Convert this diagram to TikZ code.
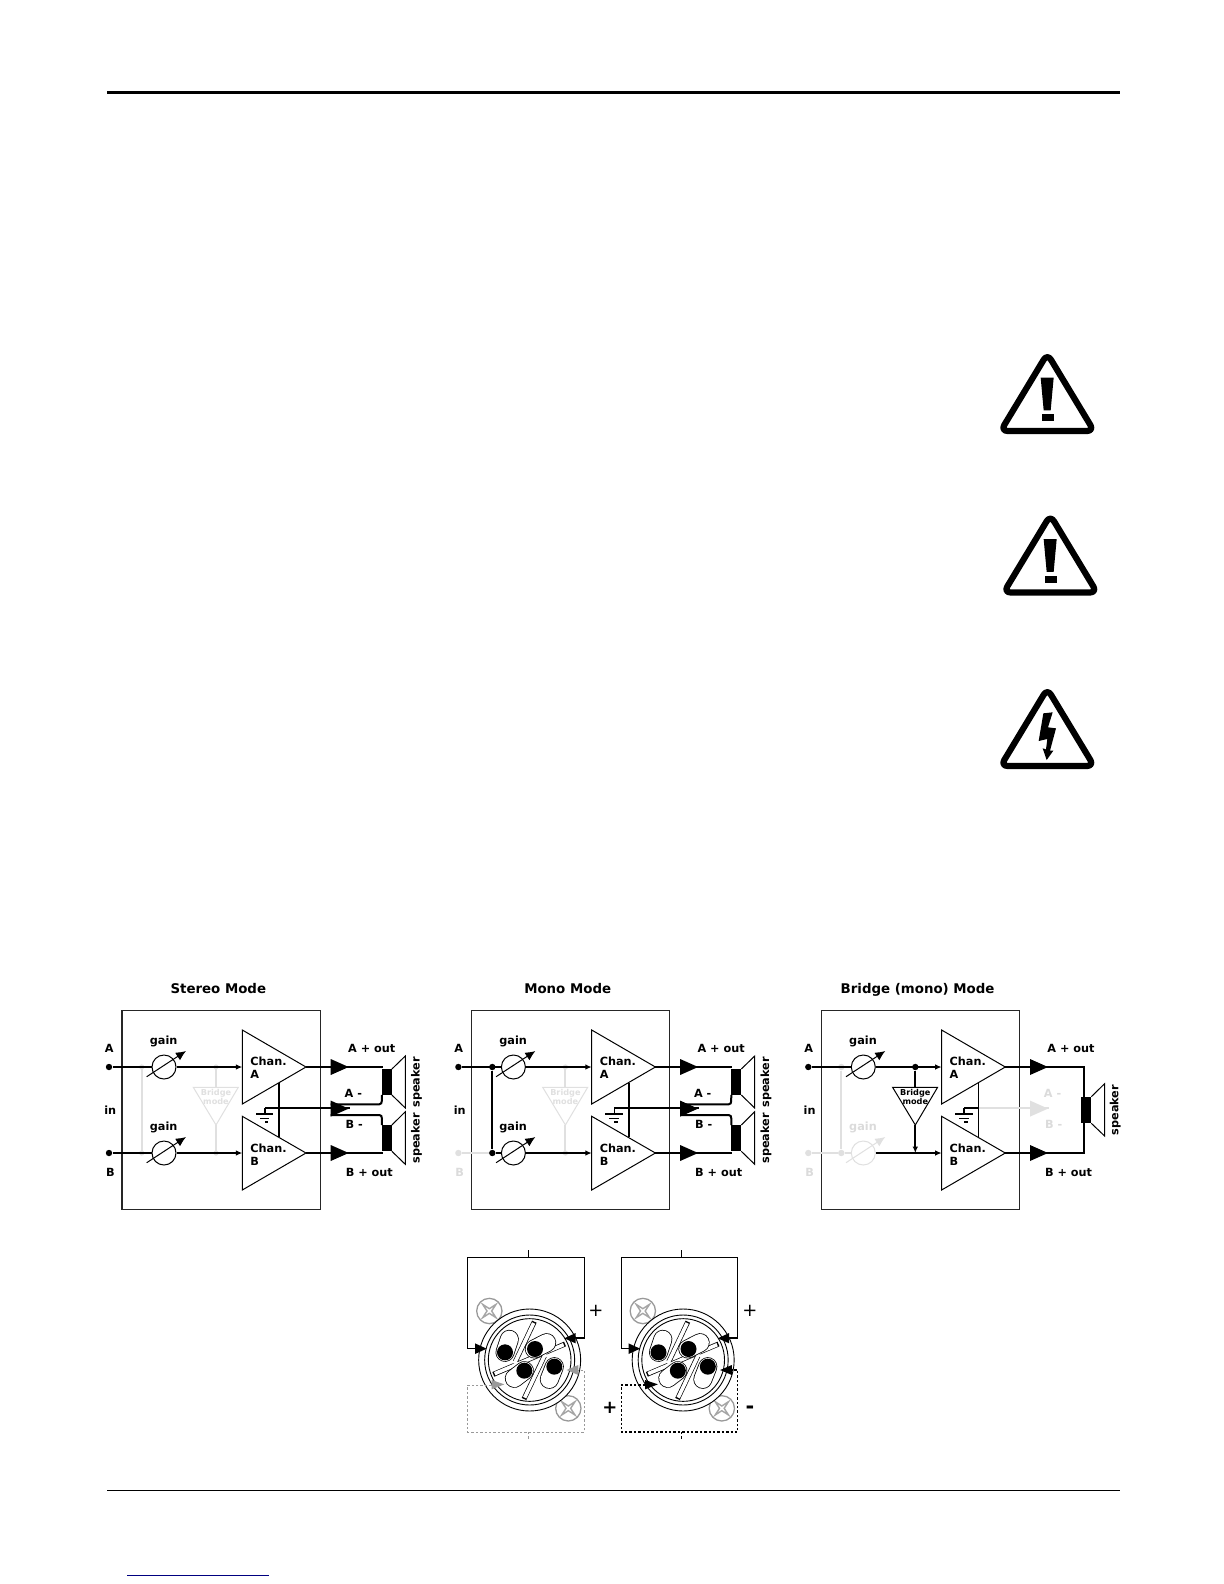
\documentclass[tikz,border=0pt]{standalone}
\usepackage{fontspec}
\setmainfont{DejaVu Sans}
\usetikzlibrary{arrows.meta}
\definecolor{faint}{gray}{0.88}
\definecolor{fainttext}{gray}{0.86}
\tikzset{
  lab/.style={inner sep=0pt,font=\fontsize{5.65}{6}\selectfont\bfseries},
  ttl/.style={inner sep=0pt,text height=5.2pt,text depth=1.3pt,font=\fontsize{6.7}{7}\selectfont\bfseries},
  small/.style={inner sep=0pt,align=center,font=\fontsize{4.1}{4.6}\selectfont\bfseries},
  wire/.style={line width=1bp,line join=miter},
  wirethin/.style={line width=.85bp},
  thin line/.style={line width=.5bp},
  gndline/.style={line width=.6bp},
  panelbox/.style={draw=black!85,line width=.55bp,minimum size=99.15bp,inner sep=0pt},
  gainc/.style={circle,draw,fill=white,line width=.5bp,minimum size=12bp,inner sep=0pt},
  sdot/.style={circle,fill,minimum size=3.2bp,inner sep=0pt},
  into/.style={-{Latex[length=3.2bp,width=2.8bp]}},
  gainarrow/.style={line width=.5bp,-{Latex[length=5bp,width=4.5bp]}},
  coilbox/.style={fill=black},
  xring/.style={draw=black,line width=.45bp},
  xwire/.style={line width=.6bp},
}
% big output triangle
\newcommand\bigtri[3]{\fill[#3] (#1,#2-8) -- (#1,#2+8) -- (#1+18,#2) -- cycle;}
% parts shared by all three panels
\newcommand\panelbase[2]{%
  \node[panelbox] (#1box) at (221.2,1109.9) {};
  \node[ttl] (#1title) at (218.3,989.6) {#2};
  \node[lab] (#1labA) at (109.3,1048) {A};
  \node[lab] (#1labin) at (110.3,1110.3) {in};
  \node[sdot] (#1inA) at (109,1067) {};
  \coordinate (#1ampAin) at (242.3,1067);
  \coordinate (#1ampAout) at (306,1067);
  \coordinate (#1ampBin) at (242.3,1153);
  \coordinate (#1ampBout) at (306,1153);
  \draw[thin line,fill=white] (242.3,1030) -- (242.3,1104) -- (#1ampAout) -- cycle;
  \draw[thin line,fill=white] (242.3,1116.3) -- (242.3,1190) -- (#1ampBout) -- cycle;
  \node[lab,anchor=west] (#1chA) at (250,1061) {Chan.};
  \node[lab,anchor=west] (#1chAb) at (250,1074.3) {A};
  \node[lab,anchor=west] (#1chB) at (250,1148.5) {Chan.};
  \node[lab,anchor=west] (#1chBb) at (250,1161.5) {B};
  \node[lab] (#1labAp) at (371.7,1048) {A + out};
  \node[lab] (#1labBp) at (369.3,1172.3) {B + out};
  \node[lab] (#1gainA) at (163.7,1041.3) {gain};
  \coordinate (#1railT) at (279.3,1083.3);
  \coordinate (#1railB) at (279.3,1136.7);
  \coordinate (#1gnd) at (265,1108.3);
  \coordinate (#1gndb) at (265,1114);
  \draw[wirethin] (#1railT) -- (#1railB);
  \draw[wirethin] (#1gndb) -- (#1gnd);
  \draw[gndline] (256,1114) -- (273.3,1114) (260,1118.3) -- (269.3,1118.3) (265,1122) -- (268.3,1122);
}
% bridge triangle and its two stubs
\newcommand\bridgetri[2]{%
  \coordinate (#1brT) at (216,1087.3);
  \coordinate (#1brB) at (216,1125);
  \draw[thin line,draw=#2,fill=white] (193.3,1087.3) -- (238.3,1087.3) -- (#1brB) -- cycle;
  \node[small,text=#2] (#1brtxt) at (216,1097) {Bridge\\mode};
}
% gain pot with crossing arrow
\newcommand\gainpot[4]{%
  \node[gainc,draw=#4] (#1) at (164,#2) {};
  \coordinate (#1s) at (146.7,#2+9.7);
  \coordinate (#1e) at (186,#2-16);
  \draw[gainarrow,draw=#4,#4] (#1s) -- (#1e);
}
% speaker
\newcommand\speaker[5]{%
  \fill[coilbox] (381.9,#2) rectangle (391.9,#3);
  \coordinate (#1t) at (381.9,#2);
  \coordinate (#1b) at (381.9,#3);
  \draw[thin line] (391.9,#2) -- (405.3,#4) -- (405.3,#5) -- (391.9,#3);
}
% warning frame, in zoom-scale units
\newcommand\warnframe[2]{%
  \begin{scope}[shift={(#1,#2)},x=.16667bp,y=-.16667bp]
    \draw[line width=3.1bp,line join=round,rounded corners=3.5bp] (172,26) -- (312,258) -- (32,258) -- cycle;
}
% XLR connector
\newcommand\xlr[5]{%
  \begin{scope}[shift={(#2,1240)},x=.16667bp,y=-.16667bp]
    \coordinate (#1tt) at (220,30);
    \coordinate (#1tm) at (220,52);
    \coordinate (#1tl) at (38,52);
    \coordinate (#1tr) at (388,52);
    \coordinate (#1ll) at (38,326);
    \coordinate (#1la) at (60,326);
    \coordinate (#1rl) at (388,294);
    \coordinate (#1ra) at (362,294);
    \draw[xwire] (#1tt) -- (#1tm);
    \draw[xwire,line join=miter] (#1la) -- (#1ll) -- (#1tl) -- (#1tr) -- (#1rl) -- (#1ra);
    \coordinate (#1bl) at (38,435);
    \coordinate (#1bla) at (110,435);
    \coordinate (#1bll) at (38,576);
    \coordinate (#1brr) at (388,576);
    \coordinate (#1br) at (388,390);
    \coordinate (#1bra) at (370,390);
    \coordinate (#1bm) at (220,576);
    \coordinate (#1bt) at (220,598);
    % screws
    \foreach \cx/\cy in {103/213,340/505}{
      \draw[draw=black!40,line width=.65bp,fill=white] (\cx,\cy) circle (38);
      \draw[draw=black!35,line width=.7bp] (\cx-20,\cy-20) -- (\cx,\cy-7) -- (\cx+20,\cy-20) -- (\cx+7,\cy) -- (\cx+20,\cy+20) -- (\cx,\cy+7) -- (\cx-20,\cy+20) -- (\cx-7,\cy) -- cycle;
    }
    % body
    \draw[xring,fill=white] (224,360) circle (153);
    \draw[xring] (224,360) circle (135);
    \draw[xring] (224,360) circle (124);
    % dividers: black edges first, white cores over them
    \draw[line width=2.5bp] (238,245) -- (181,365);
    \draw[line width=2.5bp] (330,312) -- (115,403);
    \draw[line width=2.5bp] (268,348) -- (207,477);
    \draw[white,line width=1.8bp] (236,249) -- (178,371);
    \draw[white,line width=1.8bp] (326,314) -- (119,401);
    \draw[white,line width=1.8bp] (271,342) -- (209,473);
    % slots
    \foreach \ax/\ay/\bx/\by in {150/337/163/298,238/327/275/308,208/392/178/415,298/380/283/418}{
      \draw[line width=9.5bp,line cap=round] (\ax,\ay) -- (\bx,\by);
      \draw[white,line width=8.7bp,line cap=round] (\ax,\ay) -- (\bx,\by);
    }
    % pins
    \foreach \ax/\ay in {150/337,240/327,208/392,298/380}{
      \fill (\ax,\ay) circle (24);
    }
    % upper arrows
    \fill (60,310) -- (60,342) -- (95,326) -- cycle;
    \fill (362,279) -- (362,310) -- (328,295) -- cycle;
    % lower loop
    \draw[color=#3,line width=#4bp,dash pattern=on 1.2bp off 1bp] (#1bla) -- (#1bl) -- (#1bll) -- (#1brr) -- (#1br) -- (#1bra);
    \draw[color=#3,line width=#4bp,dash pattern=on 1.2bp off 1bp] (#1bm) -- (#1bt);
    \fill[#3] (110,420) -- (110,448) -- (148,433) -- cycle;
    \fill[#3] (370,375) -- (370,405) -- (335,390) -- cycle;
    #5
  \end{scope}
}
\begin{document}
\begin{tikzpicture}[x=.5bp,y=-.5bp]
\useasboundingbox (0,0) rectangle (1224,1584);
\fill[white] (0,0) rectangle (1224,1584);
% page rules
\coordinate (topL) at (107,92);
\coordinate (topR) at (1120,92);
\draw[line width=1.5bp] (topL) -- (topR);
\coordinate (botL) at (107,1490.3);
\coordinate (botR) at (1120,1490.3);
\draw[line width=.6bp] (botL) -- (botR);
\coordinate (linkL) at (127,1575.3);
\coordinate (linkR) at (269,1575.3);
\draw[color=blue!50!black,line width=.55bp] (linkL) -- (linkR);

% warning icons
\warnframe{990}{345}
  \fill (152,98) -- (191,98) -- (182,196) -- (161,196) -- cycle;
  \fill (155,208) rectangle (191,228);
\end{scope}
\warnframe{993}{506.5}
  \fill (152,98) -- (191,98) -- (182,196) -- (161,196) -- cycle;
  \fill (155,208) rectangle (191,228);
\end{scope}
\warnframe{990}{680}
  \fill (160,100) -- (188,97) -- (174,142) -- (198,145) -- (180,212) -- (190,212) -- (170,240) -- (158,205) -- (168,208) -- (172,177) -- (146,183) -- cycle;
\end{scope}

% ---------- Stereo
\begin{scope}
  \panelbase{s}{Stereo Mode}
  \node[lab] (sB) at (110.3,1172.3) {B};
  \node[sdot] (sinB) at (109,1153) {};
  \coordinate (sgT) at (141.7,1067); \coordinate (sgB) at (141.7,1153);
  \draw[faint,line width=1bp] (sgT) -- (sgB);
  \fill[faint] (sgT) circle (2.6) (sgB) circle (2.6);
  \coordinate (sbrT) at (216,1067); \coordinate (sbrBe) at (216,1153);
  \bridgetri{sx}{faint}
  \draw[faint,line width=1bp] (sbrT) -- (sxbrT) (sxbrB) -- (sbrBe);
  \fill[faint] (sbrT) circle (2.6) (sbrBe) circle (2.6);
  \gainpot{sga}{1067}{}{black}
  \node[gainc] (sgb) at (164,1153) {};
  \coordinate (sgbs) at (146.7,1162.7); \coordinate (sgbe) at (186,1137);
  \draw[gainarrow] (sgbs) -- (sgbe);
  \node[lab] (sgainB) at (163.7,1127.3) {gain};
  \draw[wirethin] (sinA) -- (sga);
  \draw[wirethin,into] (sga) -- (sampAin);
  \draw[wirethin] (sinB) -- (sgb);
  \draw[wirethin,into] (sgb) -- (sampBin);
  \speaker{sspA}{1069}{1095}{1056}{1108}
  \speaker{sspB}{1125}{1151.3}{1111.7}{1164.3}
  \draw[wire] (sampAout) -- (382.7,1067);
  \draw[wire] (sampBout) -- (382.7,1153);
  \bigtri{330.7}{1067}{black}
  \bigtri{330.7}{1153}{black}
  \coordinate (smid) at (350,1108.3);
  \draw[wire] (sgnd) -- (smid);
  \bigtri{330.7}{1108.6}{black}
  \draw[wire] (330.7,1104.3) -- (379.3,1104.3) to[out=0,in=-100] (382,1095);
  \draw[wire] (330.7,1115) -- (379.3,1115) to[out=0,in=100] (382,1125);
  \node[lab] (sAm) at (353.3,1093.3) {A -};
  \node[lab] (sBm) at (354.3,1124.3) {B -};
  \node[lab,rotate=90] (ssp1) at (416.5,1082.3) {speaker};
  \node[lab,rotate=90] (ssp2) at (416.5,1138.3) {speaker};
\end{scope}

% ---------- Mono
\begin{scope}[shift={(349.4,0)}]
  \panelbase{m}{Mono Mode}
  \node[lab,text=fainttext] (mB) at (110.3,1172.3) {B};
  \node[sdot,faint] (minB) at (109,1153) {};
  \coordinate (mbrT) at (216,1067); \coordinate (mbrBe) at (216,1153);
  \bridgetri{mx}{faint}
  \draw[faint,line width=1bp] (mbrT) -- (mxbrT) (mxbrB) -- (mbrBe);
  \fill[faint] (mbrT) circle (2.6) (mbrBe) circle (2.6);
  \gainpot{mga}{1067}{}{black}
  \node[gainc] (mgb) at (164,1153) {};
  \coordinate (mgbs) at (146.7,1162.7); \coordinate (mgbe) at (186,1137);
  \draw[gainarrow] (mgbs) -- (mgbe);
  \node[lab] (mgainB) at (163.7,1127.3) {gain};
  \node[sdot] (mjT) at (142.9,1067) {};
  \node[sdot] (mjB) at (142.9,1153) {};
  \draw[faint,line width=1bp] (minB) -- (mjB);
  \draw[wirethin] (minA) -- (mga);
  \draw[wirethin] (mjT) -- (mjB);
  \draw[wirethin] (mjB) -- (mgb);
  \draw[wirethin,into] (mga) -- (mampAin);
  \draw[wirethin,into] (mgb) -- (mampBin);
  \speaker{mspA}{1069}{1095}{1056}{1108}
  \speaker{mspB}{1125}{1151.3}{1111.7}{1164.3}
  \draw[wire] (mampAout) -- (382.7,1067);
  \draw[wire] (mampBout) -- (382.7,1153);
  \bigtri{330.7}{1067}{black}
  \bigtri{330.7}{1153}{black}
  \coordinate (mmid) at (350,1108.3);
  \draw[wire] (mgnd) -- (mmid);
  \bigtri{330.7}{1108.6}{black}
  \draw[wire] (330.7,1104.3) -- (379.3,1104.3) to[out=0,in=-100] (382,1095);
  \draw[wire] (330.7,1115) -- (379.3,1115) to[out=0,in=100] (382,1125);
  \node[lab] (mAm) at (353.3,1093.3) {A -};
  \node[lab] (mBm) at (354.3,1124.3) {B -};
  \node[lab,rotate=90] (msp1) at (416.5,1082.3) {speaker};
  \node[lab,rotate=90] (msp2) at (416.5,1138.3) {speaker};
\end{scope}

% ---------- Bridge
\begin{scope}[shift={(699.3,0)}]
  \panelbase{b}{Bridge (mono) Mode}
  \node[lab,text=fainttext] (bB) at (110.3,1172.3) {B};
  \node[lab,text=fainttext] (bAm) at (353.3,1093.3) {A -};
  \node[lab,text=fainttext] (bBm) at (354.3,1124.3) {B -};
  \node[lab,text=fainttext] (bgainB) at (163.7,1127.3) {gain};
  \node[sdot,faint] (binB) at (109,1153) {};
  \node[sdot,faint] (bjT) at (142,1067) {};
  \node[sdot,faint] (bjB) at (142,1153) {};
  \draw[faint,line width=1bp] (bjT) -- (bjB);
  \draw[faint,line width=1bp] (binB) -- (bjB);
  \node[gainc,draw=faint] (bgb) at (164,1153) {};
  \draw[faint,line width=1bp] (bjB) -- (bgb);
  \coordinate (bgbs) at (146.7,1162.7); \coordinate (bgbe) at (186,1137);
  \draw[gainarrow,draw=faint,color=faint] (bgbs) -- (bgbe);
  \gainpot{bga}{1067}{}{black}
  \node[sdot] (bjbr) at (216,1067) {};
  \coordinate (bjbB) at (216,1153);
  \bridgetri{bx}{black}
  \draw[wirethin] (binA) -- (bga);
  \draw[wirethin,into] (bga) -- (bampAin);
  \draw[wirethin] (bjbr) -- (bxbrT);
  \draw[wirethin,into] (bxbrB) -- (bjbB);
  \draw[wirethin,into] (bgb) -- (bampBin);
  % faded output
  \coordinate (bmid) at (350,1108.3);
  \draw[faint,wire] (bgnd-|brailT) -- (bmid);
  \bigtri{330.7}{1108.6}{faint}
  \draw[wirethin] (bgnd) -- (bgnd-|brailT);
  % speaker
  \fill[coilbox] (382,1096.7) rectangle (392,1123.3);
  \coordinate (bspT) at (385,1096.7);
  \coordinate (bspB) at (385,1123.3);
  \draw[thin line] (392,1096.7) -- (405.3,1083.7) -- (405.3,1136) -- (392,1123.3);
  \draw[wire] (bampAout) -- (385,1067) -- (bspT);
  \draw[wire] (bampBout) -- (385,1153) -- (bspB);
  \bigtri{330.7}{1067}{black}
  \bigtri{330.7}{1153}{black}
  \node[lab,rotate=90] (bsp) at (416,1110) {speaker};
\end{scope}

% ---------- connectors
\xlr{c}{455}{black!40}{.5}{}
\xlr{d}{608.5}{black}{.6}{}
\node[inner sep=0pt,font=\fontsize{9}{9}\selectfont] (p1) at (596,1311) {+};
\node[inner sep=0pt,font=\fontsize{9}{9}\selectfont\bfseries] (p2) at (610,1408) {+};
\node[inner sep=0pt,font=\fontsize{9}{9}\selectfont] (p3) at (750,1311) {+};
\node[inner sep=0pt,font=\fontsize{10.5}{10.5}\selectfont\bfseries] (p4) at (750,1409.5) {-};
\end{tikzpicture}
\end{document}
